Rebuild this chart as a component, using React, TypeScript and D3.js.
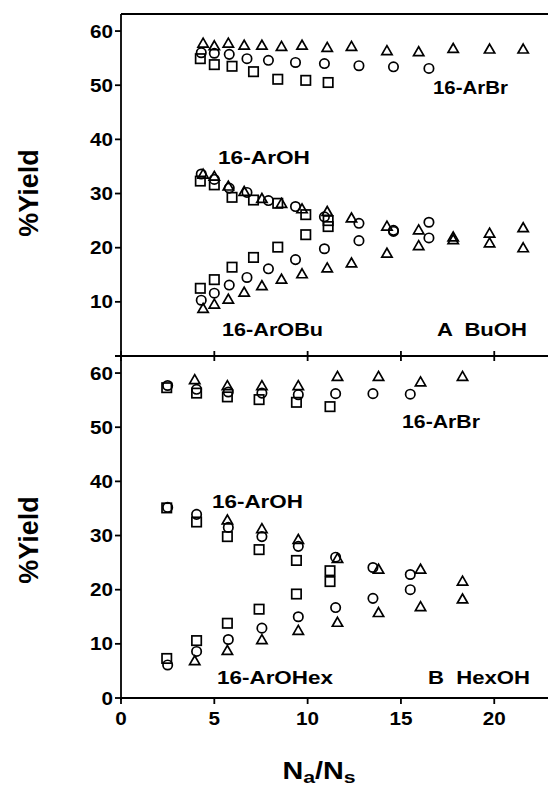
import * as d3 from 'd3';
import { useEffect, useRef } from 'react';

const xTicks = [0, 5, 10, 15, 20];
const yTicksA = [10, 20, 30, 40, 50, 60];
const yTicksB = [0, 10, 20, 30, 40, 50, 60];

// Panel A (BuOH) - Na/Ns for each marker set
const xCircleA = [4.3, 5.0, 5.8, 6.75, 7.9, 9.35, 10.9, 12.75, 14.6, 16.5];
const xTriangleA = [4.4, 5.0, 5.75, 6.6, 7.55, 8.6, 9.7, 11.05, 12.35, 14.25, 15.95, 17.8, 19.75, 21.55];
const xSquareA = [4.25, 5.0, 5.95, 7.1, 8.4, 9.9, 11.1];

const arBrTriA = [57.6, 57.1, 57.6, 57.2, 57.2, 57.0, 57.2, 56.8, 57.0, 56.2, 56.0, 56.6, 56.5, 56.5];
const arBrCircA = [56.0, 55.9, 55.7, 54.9, 54.6, 54.2, 54.0, 53.6, 53.4, 53.1];
const arBrSqA = [54.9, 53.8, 53.5, 52.5, 51.1, 50.9, 50.5];

const arOHTriA = [33.4, 33.0, 31.2, 30.2, 28.9, 28.0, 27.0, 26.5, 25.3, 23.8, 23.1, 21.8, 22.5, 23.5];
const arOHCircA = [33.6, 32.6, 31.0, 30.2, 28.7, 27.6, 25.7, 24.5, 23.0, 21.8];
const arOHSqA = [32.3, 31.6, 29.3, 28.8, 28.2, 26.1, 25.0];

const arOBuTriA = [8.6, 9.4, 10.3, 11.6, 12.8, 14.0, 15.0, 16.1, 17.0, 18.8, 20.2, 21.3, 20.7, 19.8];
const arOBuCircA = [10.3, 11.6, 13.1, 14.5, 16.1, 17.8, 19.8, 21.3, 23.2, 24.7];
const arOBuSqA = [12.5, 14.1, 16.4, 18.2, 20.1, 22.4, 23.9];

// Panel B (HexOH)
const xCircleB = [2.5, 4.05, 5.75, 7.55, 9.5, 11.5, 13.5, 15.5];
const xTriangleB = [3.95, 5.7, 7.55, 9.5, 11.6, 13.8, 16.05, 18.3];
const xSquareB = [2.45, 4.05, 5.7, 7.4, 9.4, 11.2];

const arBrTriB = [58.6, 57.5, 57.5, 57.5, 59.2, 59.2, 58.2, 59.2];
const arBrCircB = [57.7, 57.0, 56.5, 56.3, 56.0, 56.2, 56.2, 56.1];
const arBrSqB = [57.3, 56.3, 55.6, 55.1, 54.6, 53.8];

const arOHTriB = [null, 32.7, 31.1, 29.1, 25.6, 23.6, 23.6, 21.4];
const arOHCircB = [35.2, 33.9, 31.5, 29.8, 28.0, 26.0, 24.1, 22.8];
const arOHSqB = [35.1, 32.5, 29.8, 27.4, 25.4, 23.5];

const arOHexTriB = [6.7, 8.6, 10.6, 12.3, 13.8, 15.6, 16.7, 18.1];
const arOHexCircB = [6.1, 8.6, 10.8, 12.9, 15.0, 16.7, 18.4, 20.0];
const arOHexSqB = [7.3, 10.6, 13.8, 16.4, 19.2, 21.5];

const font = '"Liberation Sans", Arial, Helvetica, sans-serif';

function App() {
    const ref = useRef<SVGSVGElement | null>(null);

    useEffect(() => {
        const svg = d3.select(ref.current);
        svg.selectAll('*').remove();

        const left = 121;
        const right = 548;
        const topA = 14;
        const mid = 356;
        const bottom = 698;

        const x = d3.scaleLinear().domain([0, 22.88]).range([left, right]);
        const yA = d3.scaleLinear().domain([0, 63.15]).range([mid, topA]);
        const yB = d3.scaleLinear().domain([0, 63.15]).range([bottom, mid]);

        // frame
        const frame = svg.append('g').attr('stroke', '#000').attr('stroke-width', 1.8).attr('fill', 'none');
        frame.append('line').attr('x1', left).attr('x2', left).attr('y1', topA).attr('y2', bottom + 2);
        frame.append('line').attr('x1', left).attr('x2', right).attr('y1', topA).attr('y2', topA);
        frame.append('line').attr('x1', left - 6).attr('x2', right).attr('y1', mid).attr('y2', mid);
        frame.append('line').attr('x1', left).attr('x2', right).attr('y1', bottom).attr('y2', bottom);

        // x ticks at divider and bottom
        xTicks.forEach(t => {
            frame.append('line').attr('x1', x(t)).attr('x2', x(t)).attr('y1', mid - 5).attr('y2', mid + 5);
            frame.append('line').attr('x1', x(t)).attr('x2', x(t)).attr('y1', bottom).attr('y2', bottom + 6);
        });

        const txt = svg.append('g')
            .attr('font-family', font)
            .attr('font-weight', 'bold')
            .attr('fill', '#000');

        xTicks.forEach(t => {
            txt.append('text')
                .attr('x', x(t))
                .attr('y', 725)
                .attr('text-anchor', 'middle')
                .attr('font-size', 18)
                .attr('textLength', String(t).length * 11.5)
                .attr('lengthAdjust', 'spacingAndGlyphs')
                .text(t);
        });

        const yTicks = (scale: d3.ScaleLinear<number, number>, ticks: number[]) => {
            ticks.forEach(t => {
                frame.append('line').attr('x1', left - 6).attr('x2', left).attr('y1', scale(t)).attr('y2', scale(t));
                txt.append('text')
                    .attr('x', 113)
                    .attr('y', scale(t) + 6.5)
                    .attr('text-anchor', 'end')
                    .attr('font-size', 18)
                    .attr('textLength', String(t).length * 11.5)
                    .attr('lengthAdjust', 'spacingAndGlyphs')
                    .text(t);
            });
        };
        yTicks(yA, yTicksA);
        yTicks(yB, yTicksB);

        // y axis titles
        [193, 540].forEach(cy => {
            txt.append('text')
                .attr('transform', `translate(38,${cy}) rotate(-90)`)
                .attr('text-anchor', 'middle')
                .attr('font-size', 27)
                .text('%Yield');
        });

        // x axis title
        const title = txt.append('text')
            .attr('transform', 'translate(319,779) scale(1.25,1)')
            .attr('text-anchor', 'middle')
            .attr('font-size', 23);
        title.append('tspan').text('N');
        title.append('tspan').attr('font-size', 17).attr('dy', 4).text('a');
        title.append('tspan').attr('dy', -4).text('/N');
        title.append('tspan').attr('font-size', 17).attr('dy', 4).text('s');

        // in-plot labels
        const labels = [
            { t: '16-ArBr', x: 433, y: 94, w: 75 },
            { t: '16-ArOH', x: 218, y: 164, w: 92 },
            { t: '16-ArOBu', x: 222, y: 336, w: 101 },
            { t: 'A  BuOH', x: 437, y: 336, w: 90 },
            { t: '16-ArBr', x: 402, y: 428, w: 78 },
            { t: '16-ArOH', x: 212, y: 508, w: 91 },
            { t: '16-ArOHex', x: 217, y: 684, w: 116 },
            { t: 'B  HexOH', x: 428, y: 684, w: 102 },
        ];
        labels.forEach(l => {
            txt.append('text')
                .attr('x', l.x)
                .attr('y', l.y)
                .attr('font-size', 18.5)
                .attr('textLength', l.w)
                .attr('lengthAdjust', 'spacingAndGlyphs')
                .style('white-space', 'pre')
                .text(l.t);
        });

        // markers
        const marks = svg.append('g').attr('fill', 'none').attr('stroke', '#000').attr('stroke-width', 1.7);
        const tri = d3.symbol().type(d3.symbolTriangle).size(46)();

        const draw = (xs: number[], ys: (number | null)[], scale: d3.ScaleLinear<number, number>, kind: string) => {
            const pts = xs.map((v, i) => ({ x: v, y: ys[i] })).filter(d => d.y != null);
            if (kind === 'circle') {
                marks.selectAll(null).data(pts).join('circle')
                    .attr('cx', d => x(d.x))
                    .attr('cy', d => scale(d.y as number))
                    .attr('r', 4.7);
            } else if (kind === 'square') {
                marks.selectAll(null).data(pts).join('rect')
                    .attr('x', d => x(d.x) - 4.7)
                    .attr('y', d => scale(d.y as number) - 4.7)
                    .attr('width', 9.4)
                    .attr('height', 9.4);
            } else {
                marks.selectAll(null).data(pts).join('path')
                    .attr('d', tri)
                    .attr('transform', d => `translate(${x(d.x)},${scale(d.y as number)})`);
            }
        };

        draw(xTriangleA, arBrTriA, yA, 'tri');
        draw(xCircleA, arBrCircA, yA, 'circle');
        draw(xSquareA, arBrSqA, yA, 'square');
        draw(xTriangleA, arOHTriA, yA, 'tri');
        draw(xCircleA, arOHCircA, yA, 'circle');
        draw(xSquareA, arOHSqA, yA, 'square');
        draw(xTriangleA, arOBuTriA, yA, 'tri');
        draw(xCircleA, arOBuCircA, yA, 'circle');
        draw(xSquareA, arOBuSqA, yA, 'square');

        draw(xTriangleB, arBrTriB, yB, 'tri');
        draw(xCircleB, arBrCircB, yB, 'circle');
        draw(xSquareB, arBrSqB, yB, 'square');
        draw(xTriangleB, arOHTriB, yB, 'tri');
        draw(xCircleB, arOHCircB, yB, 'circle');
        draw(xSquareB, arOHSqB, yB, 'square');
        draw(xTriangleB, arOHexTriB, yB, 'tri');
        draw(xCircleB, arOHexCircB, yB, 'circle');
        draw(xSquareB, arOHexSqB, yB, 'square');
    }, []);

    return (
        <div style={{ position: 'absolute', left: 0, top: 0 }}>
            <svg ref={ref} width={548} height={792} style={{ display: 'block', background: '#fff' }} />
        </div>
    );
}

export default App;
